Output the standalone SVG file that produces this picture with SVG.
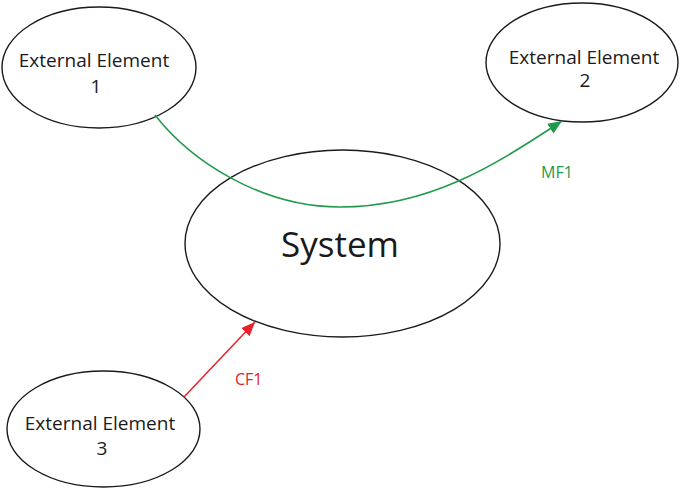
<svg xmlns="http://www.w3.org/2000/svg" width="680" height="489" viewBox="0 0 680 489">
<defs>
<style>
.node{fill:#fff;stroke:#1a1a1a;stroke-width:1.4}
.lbl{font-family:"Open Sans","Noto Sans",sans-serif;font-size:19px;fill:#1a1a1a;text-anchor:middle}
.sys{font-size:35px}
.flow{fill:none;stroke-width:1.5}
.tag{font-family:"Open Sans","Noto Sans",sans-serif;font-size:16px}
</style>
<marker id="ag" markerUnits="userSpaceOnUse" markerWidth="14" markerHeight="12" refX="12" refY="5" orient="auto" viewBox="0 0 12 10">
<path d="M0,0 L12,5 L0,10 Z" fill="#1f9a4a"/>
</marker>
<marker id="ar" markerUnits="userSpaceOnUse" markerWidth="14" markerHeight="12" refX="12" refY="5" orient="auto" viewBox="0 0 12 10">
<path d="M0,0 L12,5 L0,10 Z" fill="#e8202a"/>
</marker>
</defs>
<rect width="680" height="489" fill="#fff"/>
<g id="system">
<ellipse class="node" cx="342.5" cy="243.5" rx="157.5" ry="93.5"/>
<text class="lbl sys" x="340" y="257">System</text>
</g>
<g id="ext1">
<ellipse class="node" cx="99" cy="67.5" rx="97" ry="60.5"/>
<text class="lbl" x="94" y="67">External Element</text>
<text class="lbl" x="96" y="93">1</text>
</g>
<g id="ext2">
<ellipse class="node" cx="582" cy="62.5" rx="96" ry="59.5"/>
<text class="lbl" x="584" y="64">External Element</text>
<text class="lbl" x="585" y="87">2</text>
</g>
<g id="ext3">
<ellipse class="node" cx="103.5" cy="429" rx="96.5" ry="58"/>
<text class="lbl" x="100" y="430">External Element</text>
<text class="lbl" x="102" y="455">3</text>
</g>
<g id="connectors">
<path class="flow" stroke="#1f9a4a" d="M155,115 C190,160 260,207 340,207 C430,207 495,165 562,121" marker-end="url(#ag)"/>
<text class="tag" fill="#1f9a4a" x="541" y="178">MF1</text>
<path class="flow" stroke="#e8202a" d="M184,397 L255,322" marker-end="url(#ar)"/>
<text class="tag" fill="#e8202a" x="235" y="385">CF1</text>
</g>
</svg>
